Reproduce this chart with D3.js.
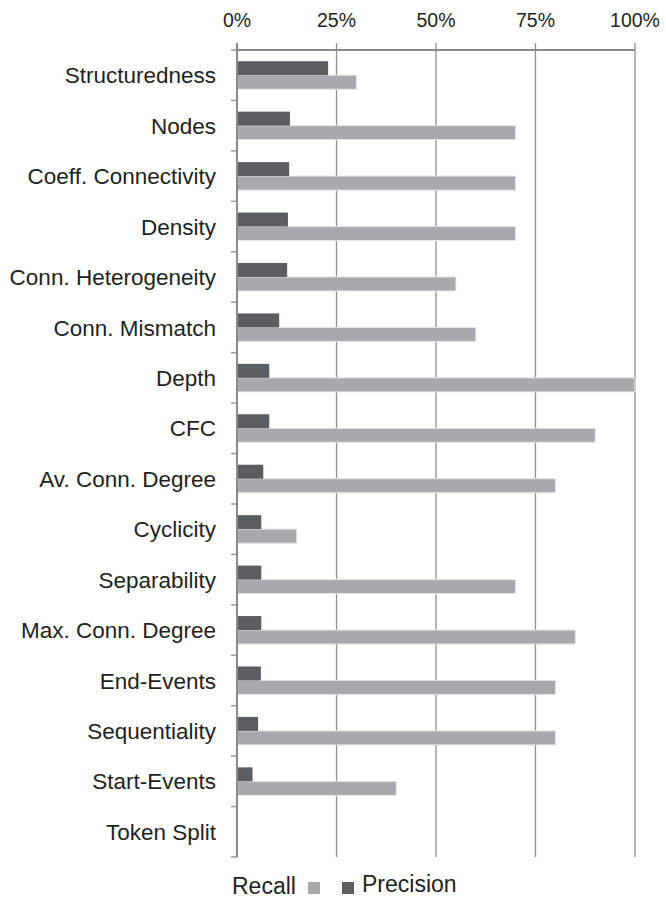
<!DOCTYPE html>
<html>
<head>
<meta charset="utf-8">
<script src="https://cdn.jsdelivr.net/npm/d3@7"></script>
<style>
    body { margin: 0; background: #fff; }
    text { font-family: "Liberation Sans", Arial, sans-serif; fill: #231f20; }
</style>
</head>
<body>
<script>
// metrics, top to bottom
var categories = ["Structuredness", "Nodes", "Coeff. Connectivity", "Density",
    "Conn. Heterogeneity", "Conn. Mismatch", "Depth", "CFC", "Av. Conn. Degree",
    "Cyclicity", "Separability", "Max. Conn. Degree", "End-Events",
    "Sequentiality", "Start-Events", "Token Split"];
var precision = [0.229, 0.133, 0.131, 0.128, 0.126, 0.106, 0.081, 0.081, 0.066,
    0.061, 0.061, 0.061, 0.060, 0.053, 0.039, 0];
var recall = [0.30, 0.70, 0.70, 0.70, 0.55, 0.60, 1.00, 0.90, 0.80,
    0.15, 0.70, 0.85, 0.80, 0.80, 0.40, 0];
var xTicks = [0, 0.25, 0.5, 0.75, 1];
var legendItems = ["Recall", "Precision"];

var margin = { top: 50, right: 31, bottom: 43, left: 237 },
    width = 666 - margin.left - margin.right,
    height = 900 - margin.top - margin.bottom;

var svg = d3.select("body").append("svg")
    .attr("width", 666)
    .attr("height", 900);
var g = svg.append("g")
    .attr("transform", "translate(" + margin.left + "," + margin.top + ")");

var x = d3.scaleLinear().domain([0, 1]).range([0, width]);
var y = d3.scaleBand().domain(categories).range([0, height]);
var barH = 14;

// vertical gridlines
g.selectAll(".grid")
    .data(xTicks.slice(1))
    .enter().append("line")
    .attr("x1", function (d) { return x(d); })
    .attr("x2", function (d) { return x(d); })
    .attr("y1", -7)
    .attr("y2", height)
    .attr("stroke", function (d) { return d == 1 ? "#b5b5b5" : "#8e8e8e"; })
    .attr("stroke-width", function (d) { return d == 1 ? 2 : 1.3; });

// top tick labels
g.selectAll(".xlabel")
    .data(xTicks)
    .enter().append("text")
    .attr("x", function (d) { return x(d); })
    .attr("y", -23)
    .style("text-anchor", "middle")
    .style("font-size", "19.5px")
    .text(d3.format(".0%"));

// bars
var rows = g.selectAll(".row")
    .data(categories)
    .enter().append("g")
    .attr("transform", function (d) { return "translate(0," + y(d) + ")"; });

rows.append("rect")
    .attr("x", 0)
    .attr("y", y.bandwidth() / 2)
    .attr("height", barH)
    .attr("width", function (d, i) { return x(recall[i]); })
    .attr("fill", "#a7a9ac")
    .attr("stroke", function (d, i) { return recall[i] > 0 ? "#e4e5e6" : "none"; })
    .attr("stroke-width", 1);

rows.append("rect")
    .attr("x", 0)
    .attr("y", y.bandwidth() / 2 - barH)
    .attr("height", barH)
    .attr("width", function (d, i) { return x(precision[i]); })
    .attr("fill", "#5b5e61");

// category labels
rows.append("text")
    .attr("x", -21)
    .attr("y", y.bandwidth() / 2)
    .attr("dy", ".36em")
    .style("text-anchor", "end")
    .style("font-size", "22.5px")
    .text(function (d) { return d; });

// left ticks at band edges
var edges = categories.map(function (d) { return y(d); }).concat([height]);
g.selectAll(".ytick")
    .data(edges)
    .enter().append("line")
    .attr("x1", -6).attr("x2", 0)
    .attr("y1", function (d) { return d; })
    .attr("y2", function (d) { return d; })
    .attr("stroke", "#9a9a9a")
    .attr("stroke-width", 1.5);

// axis lines
g.append("line")
    .attr("x1", 0).attr("x2", width)
    .attr("y1", 0).attr("y2", 0)
    .attr("stroke", "#8a8a8a").attr("stroke-width", 2);
g.append("line")
    .attr("x1", 0).attr("x2", 0)
    .attr("y1", -7).attr("y2", height)
    .attr("stroke", "#8a8a8a").attr("stroke-width", 2);

// legend
var legend = svg.append("g");
legend.append("text")
    .attr("x", 232).attr("y", 894)
    .style("font-size", "23px")
    .text(legendItems[0]);
legend.append("rect")
    .attr("x", 308).attr("y", 882).attr("width", 12).attr("height", 12)
    .attr("fill", "#a7a9ac");
legend.append("rect")
    .attr("x", 342).attr("y", 882).attr("width", 12).attr("height", 12)
    .attr("fill", "#5b5e61");
legend.append("text")
    .attr("x", 362).attr("y", 892)
    .style("font-size", "23px")
    .text(legendItems[1]);
</script>
</body>
</html>
